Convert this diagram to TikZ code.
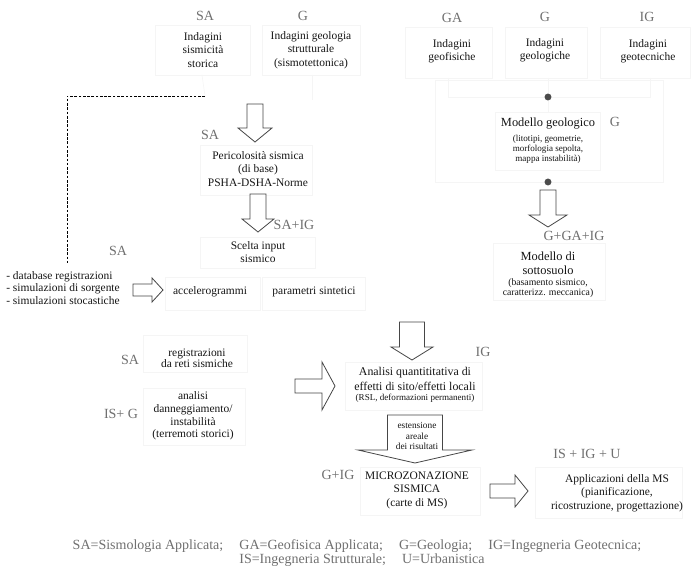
\documentclass[tikz,border=0pt]{standalone}
\usepackage{fontspec}
\setmainfont{Liberation Serif}
\definecolor{lab}{RGB}{112,112,112}
\definecolor{faint}{RGB}{245,245,245}
\definecolor{txt}{RGB}{22,22,22}
\definecolor{arr}{RGB}{70,70,70}
\definecolor{dotc}{RGB}{75,75,75}
\newcommand\blkdown[6]{% x, top, shaft bottom, tip, half shaft, half head
  \draw[blk] (#1-#5,#2) -- (#1+#5,#2) -- (#1+#5,#3) -- (#1+#6,#3) -- (#1,#4) -- (#1-#6,#3) -- (#1-#5,#3) -- cycle;}
\newcommand\blkright[6]{% y, left, shaft end, tip, half shaft, half head
  \draw[blk] (#2,#1-#5) -- (#3,#1-#5) -- (#3,#1-#6) -- (#4,#1) -- (#3,#1+#6) -- (#3,#1+#5) -- (#2,#1+#5) -- cycle;}
\begin{document}
\begin{tikzpicture}[x=0.75pt,y=-0.75pt,
  mt/.style={font=\fontsize{8.6}{10.1}\selectfont, text=txt, align=center, inner sep=0pt},
  tt/.style={font=\fontsize{9.3}{10.6}\selectfont, text=txt, align=center, inner sep=0pt},
  st/.style={font=\fontsize{6.8}{7.6}\selectfont, text=txt, align=center, inner sep=0pt},
  lb/.style={font=\fontsize{10.5}{12}\selectfont, text=lab, inner sep=0pt},
  fbox/.style={draw=faint, line width=0.4pt},
  blk/.style={draw=arr, line width=0.6pt, fill=white},
  dotst/.style={circle, fill=dotc, inner sep=0pt, minimum size=5.2pt},
  dashline/.style={draw=black, line width=0.6pt, dash pattern=on 2pt off 1.2pt}]
\useasboundingbox[fill=white] (0,0) rectangle (700,573);

% faint frames
\draw[fbox] (155,25) rectangle (250,75);
\draw[fbox] (262,25) rectangle (360,75);
\draw[fbox] (405,27) rectangle (492,78);
\draw[fbox] (505,27) rectangle (587,78);
\draw[fbox] (600,27) rectangle (690,78);
\draw[fbox] (435,80) rectangle (663,182);
\draw[fbox] (495,112) rectangle (600,170);
\draw[fbox] (200,145) rectangle (312,195);
\draw[fbox] (200,237) rectangle (315,268);
\draw[fbox] (165,277) rectangle (260,310);
\draw[fbox] (262,277) rectangle (365,310);
\draw[fbox] (493,243) rectangle (605,300);
\draw[fbox] (143,335) rectangle (247,372);
\draw[fbox] (143,388) rectangle (245,445);
\draw[fbox] (345,362) rectangle (482,410);
\draw[fbox] (360,467) rectangle (480,515);
\draw[fbox] (535,467) rectangle (682,518);

% top labels
\node[lb] (lSA1) at (205,16) {SA};
\node[lb] (lG1) at (303,16) {G};
\node[lb] (lGA) at (452,18) {GA};
\node[lb] (lG2) at (545,17) {G};
\node[lb] (lIG1) at (647,17) {IG};

% top boxes
\node[mt] (sism) at (203,50) {Indagini\\sismicità\\storica};
\node[mt] (geolstr) at (311,50) {Indagini geologia\\strutturale\\(sismotettonica)};
\node[mt] (geofis) at (452,51) {Indagini\\geofisiche};
\node[mt] (geologiche) at (545,50) {Indagini\\geologiche};
\node[mt] (geotec) at (648,51) {Indagini\\geotecniche};

% faint branch connectors
\node[dotst] (dot1) at (548,97) {};
\node[dotst] (dot2) at (548,182) {};
\coordinate (sismB) at (202,75);
\coordinate (dashS) at (205,96);
\coordinate (geolB) at (312,75);
\coordinate (geolE) at (312,100);
\draw[fbox] (sismB) -- (dashS);
\draw[fbox] (geolB) -- (geolE);
\draw[fbox] (448,78) |- (dot1);
\draw[fbox] (650,78) |- (dot1);
\draw[fbox] (548,78) -- (dot1);
\draw[fbox] (dot1) -- (548,112);

% modello geologico
\node[tt] (modgeo) at (548,124) {Modello geologico};
\node[st] (modgeosub) at (548,149) {(litotipi, geometrie,\\morfologia sepolta,\\mappa instabilità)};
\node[lb] (lG3) at (615,122) {G};

% arrow to sottosuolo
\blkdown{548}{190}{215}{227}{8}{19}
\node[lb] (lGGAIG) at (574,236) {G+GA+IG};
\node[tt] (sotto) at (548,263) {Modello di\\sottosuolo};
\node[st, font=\fontsize{7.3}{7.9}\selectfont] (sottosub) at (548,288) {(basamento sismico,\\caratterizz. meccanica)};

% dashed connector
\coordinate (dashC) at (67,96);
\coordinate (dashE) at (67,263);
\draw[dashline] (dashS) -- (dashC) -- (dashE);

% pericolosita
\blkdown{255}{104}{128}{142}{8}{17}
\node[lb] (lSA2) at (210,135) {SA};
\node[mt] (peric) at (258,169) {Pericolosità sismica\\(di base)\\PSHA-DSHA-Norme};
\blkdown{258}{194}{219}{232}{8}{16}
\node[lb] (lSAIG) at (294,225) {SA+IG};
\node[mt] (scelta) at (258,252) {Scelta input\\sismico};
\node[lb] (lSA3) at (118,251) {SA};

% list and accelerogrammi
\node[mt, align=left, anchor=west, font=\fontsize{8.6}{9.6}\selectfont] (lista) at (6,288) {- database registrazioni\\- simulazioni di sorgente\\- simulazioni stocastiche};
\blkright{290}{133}{152}{163}{6}{12}
\node[mt] (accel) at (210,292) {accelerogrammi};
\node[mt] (param) at (314,292) {parametri sintetici};

% middle left
\node[lb] (lSA4) at (130,360) {SA};
\node[mt, font=\fontsize{8.6}{8.6}\selectfont] (regis) at (197,358) {registrazioni\\da reti sismiche};
\node[lb] (lISG) at (121,414) {IS+ G};
\node[mt, font=\fontsize{8.6}{9.6}\selectfont] (danneg) at (193,416) {analisi\\danneggiamento/\\instabilità\\(terremoti storici)};
\blkright{386}{295}{322}{335}{7}{24}

% analisi
\blkdown{412}{322}{347}{360}{12.5}{21}
\node[lb] (lIG2) at (483,352) {IG};
\node[mt, font=\fontsize{8.9}{10.6}\selectfont] (analisi) at (415,379) {Analisi quantititativa di\\effetti di sito/effetti locali};
\node[st] (analisisub) at (415,398) {(RSL, deformazioni permanenti)};

% estensione arrow
\blkdown{415}{415}{450}{463}{27.5}{57}
\node[st, font=\fontsize{7}{8}\selectfont] (esten) at (417,436) {estensione\\areale\\dei risultati};

% microzonazione
\node[lb] (lGIG) at (338,475) {G+IG};
\node[mt] (micro) at (417,490) {MICROZONAZIONE\\SISMICA\\(carte di MS)};
\blkright{491}{490}{515}{528}{7}{16}
\node[lb] (lISIGU) at (587,454) {IS + IG + U};
\node[mt] (appl) at (617,493) {Applicazioni della MS\\(pianificazione,\\ricostruzione, progettazione)};

% legend
\node[lb] (leg1) at (357,546) {SA=Sismologia Applicata;\hspace{0.9em} GA=Geofisica Applicata;\hspace{0.9em} G=Geologia;\hspace{0.9em} IG=Ingegneria Geotecnica;};
\node[lb] (leg2) at (362,560) {IS=Ingegneria Strutturale;\hspace{0.9em} U=Urbanistica};
\end{tikzpicture}
\end{document}
